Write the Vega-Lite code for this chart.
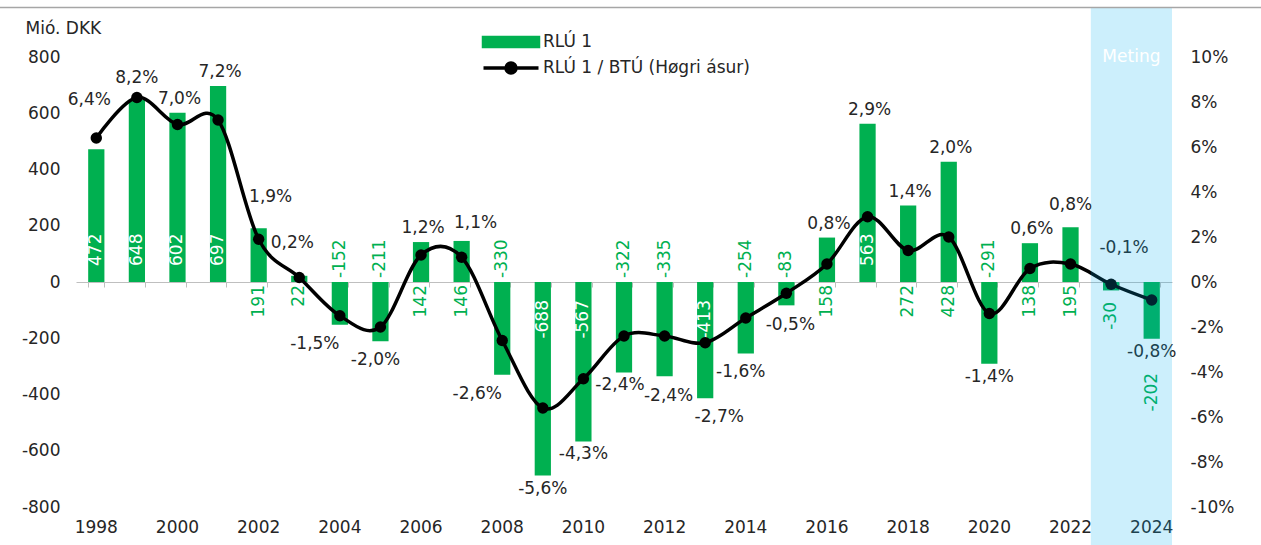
{
  "$schema": "https://vega.github.io/schema/vega-lite/v6.json",
  "width": 1096,
  "height": 450,
  "autosize": {"type": "none"},
  "padding": {"left": 76, "top": 57, "right": 89, "bottom": 38},
  "background": "white",
  "data": {
    "values": [
      {"year": 1998, "value": 472, "pct": 0.064},
      {"year": 1999, "value": 648, "pct": 0.082},
      {"year": 2000, "value": 602, "pct": 0.070},
      {"year": 2001, "value": 697, "pct": 0.072},
      {"year": 2002, "value": 191, "pct": 0.019},
      {"year": 2003, "value": 22, "pct": 0.002},
      {"year": 2004, "value": -152, "pct": -0.015},
      {"year": 2005, "value": -211, "pct": -0.020},
      {"year": 2006, "value": 142, "pct": 0.012},
      {"year": 2007, "value": 146, "pct": 0.011},
      {"year": 2008, "value": -330, "pct": -0.026},
      {"year": 2009, "value": -688, "pct": -0.056},
      {"year": 2010, "value": -567, "pct": -0.043},
      {"year": 2011, "value": -322, "pct": -0.024},
      {"year": 2012, "value": -335, "pct": -0.024},
      {"year": 2013, "value": -413, "pct": -0.027},
      {"year": 2014, "value": -254, "pct": -0.016},
      {"year": 2015, "value": -83, "pct": -0.005},
      {"year": 2016, "value": 158, "pct": 0.008},
      {"year": 2017, "value": 563, "pct": 0.029},
      {"year": 2018, "value": 272, "pct": 0.014},
      {"year": 2019, "value": 428, "pct": 0.020},
      {"year": 2020, "value": -291, "pct": -0.014},
      {"year": 2021, "value": 138, "pct": 0.006},
      {"year": 2022, "value": 195, "pct": 0.008},
      {"year": 2023, "value": -30, "pct": -0.001},
      {"year": 2024, "value": -202, "pct": -0.008}
    ]
  },
  "config": {
    "view": {"stroke": null},
    "font": "DejaVu Sans",
    "locale": {"number": {"decimal": ",", "thousands": ".", "grouping": [3], "currency": ["", " kr."], "minus": "-"}},
    "axis": {"labelFont": "DejaVu Sans", "labelFontSize": 17, "labelColor": "#262626", "titleFont": "DejaVu Sans", "titleFontSize": 17, "titleColor": "#262626", "titleFontWeight": "normal", "grid": false},
    "text": {"font": "DejaVu Sans", "fontSize": 17}
  },
  "resolve": {"scale": {"y": "independent"}, "axis": {"x": "independent", "y": "independent"}},
  "layer": [
    {
      "mark": {"type": "bar"},
      "encoding": {
        "x": {"field": "year", "type": "ordinal", "scale": {"paddingInner": 0.6, "paddingOuter": 0.3},
          "axis": {"orient": "bottom", "offset": -225, "domain": true, "domainColor": "#bfbfbf", "domainWidth": 1.2, "ticks": true, "tickColor": "#bfbfbf", "tickBand": "extent", "tickExtra": true, "tickSize": 5, "labels": false, "title": null}},
        "y": {"field": "value", "type": "quantitative", "scale": {"domain": [-800, 800], "nice": false},
          "axis": {"orient": "left", "values": [-800, -600, -400, -200, 0, 200, 400, 600, 800], "domain": false, "ticks": false, "labelPadding": 16, "title": "Mió. DKK", "titleAngle": 0, "titleAlign": "left", "titleBaseline": "middle", "titleX": -51, "titleY": -29}},
        "color": {"datum": "RLÚ 1", "type": "nominal",
          "scale": {"domain": ["RLÚ 1", "RLÚ 1 / BTÚ (Høgri ásur)"], "range": ["#00B050", "#000000"]},
          "legend": {"orient": "none", "legendX": 423, "legendY": -27, "title": null, "direction": "vertical", "symbolSize": 400, "labelFontSize": 17, "labelColor": "#262626", "labelFont": "DejaVu Sans", "labelOffset": 20, "labelLimit": 400, "rowPadding": 2,
            "encode": {"symbols": {"update": {
              "shape": {"signal": "datum.value === 'RLÚ 1' ? 'M-2.75,-0.44H2.75V0.44H-2.75Z' : 'M-2.75,0H2.75M0.5,0A0.5,0.5,0,1,1,-0.5,0A0.5,0.5,0,1,1,0.5,0Z'"},
              "fill": {"signal": "datum.value === 'RLÚ 1' ? '#00B050' : '#000000'"},
              "stroke": {"signal": "datum.value === 'RLÚ 1' ? 'transparent' : '#000000'"},
              "strokeWidth": {"value": 3.5},
              "fillOpacity": {"value": 1},
              "opacity": {"value": 1}
            }}}}}
      }
    },
    {
      "transform": [{"filter": "datum.value >= 450"}],
      "mark": {"type": "text", "angle": 270, "align": "left", "baseline": "middle", "dx": 16, "color": "#ffffff"},
      "encoding": {"x": {"field": "year", "type": "ordinal", "axis": null}, "y": {"datum": 0, "type": "quantitative", "scale": {"domain": [-800, 800], "nice": false}, "axis": null}, "text": {"field": "value", "type": "quantitative"}}
    },
    {
      "transform": [{"filter": "datum.value <= -400"}],
      "mark": {"type": "text", "angle": 270, "align": "right", "baseline": "middle", "dx": -18, "color": "#ffffff"},
      "encoding": {"x": {"field": "year", "type": "ordinal", "axis": null}, "y": {"datum": 0, "type": "quantitative", "scale": {"domain": [-800, 800], "nice": false}, "axis": null}, "text": {"field": "value", "type": "quantitative"}}
    },
    {
      "transform": [{"filter": "datum.value > 0 && datum.value < 450"}],
      "mark": {"type": "text", "angle": 270, "align": "right", "baseline": "middle", "dx": -3, "color": "#00B050"},
      "encoding": {"x": {"field": "year", "type": "ordinal", "axis": null}, "y": {"datum": 0, "type": "quantitative", "scale": {"domain": [-800, 800], "nice": false}, "axis": null}, "text": {"field": "value", "type": "quantitative"}}
    },
    {
      "transform": [{"filter": "datum.value < 0 && datum.value > -400 && datum.year < 2023"}],
      "mark": {"type": "text", "angle": 270, "align": "left", "baseline": "middle", "dx": 4, "color": "#00B050"},
      "encoding": {"x": {"field": "year", "type": "ordinal", "axis": null}, "y": {"datum": 0, "type": "quantitative", "scale": {"domain": [-800, 800], "nice": false}, "axis": null}, "text": {"field": "value", "type": "quantitative"}}
    },
    {
      "transform": [{"filter": "datum.year === 2023"}],
      "mark": {"type": "text", "angle": 270, "align": "right", "baseline": "middle", "dx": -20, "color": "#00B050"},
      "encoding": {"x": {"field": "year", "type": "ordinal", "axis": null}, "y": {"datum": 0, "type": "quantitative", "scale": {"domain": [-800, 800], "nice": false}, "axis": null}, "text": {"field": "value", "type": "quantitative"}}
    },
    {
      "transform": [{"filter": "datum.year === 2024"}],
      "mark": {"type": "text", "angle": 270, "align": "right", "baseline": "middle", "dx": -34, "color": "#00B050"},
      "encoding": {"x": {"field": "year", "type": "ordinal", "axis": null}, "y": {"field": "value", "type": "quantitative", "scale": {"domain": [-800, 800], "nice": false}, "axis": null}, "text": {"field": "value", "type": "quantitative"}}
    },
    {
      "mark": {"type": "line", "interpolate": "cardinal", "strokeWidth": 3.5, "point": {"filled": true, "size": 130}},
      "encoding": {
        "x": {"field": "year", "type": "ordinal",
          "axis": {"orient": "bottom", "values": [1998, 2000, 2002, 2004, 2006, 2008, 2010, 2012, 2014, 2016, 2018, 2020, 2022, 2024], "domain": false, "ticks": false, "tickSize": 0, "labelAngle": 0, "labelPadding": 12, "title": null}},
        "y": {"field": "pct", "type": "quantitative", "scale": {"domain": [-0.1, 0.1], "nice": false},
          "axis": {"orient": "right", "values": [-0.1, -0.08, -0.06, -0.04, -0.02, 0, 0.02, 0.04, 0.06, 0.08, 0.1], "format": ".0%", "domain": false, "ticks": false, "labelPadding": 18, "title": null}},
        "color": {"datum": "RLÚ 1 / BTÚ (Høgri ásur)", "type": "nominal",
          "scale": {"domain": ["RLÚ 1", "RLÚ 1 / BTÚ (Høgri ásur)"], "range": ["#00B050", "#000000"]}}
      }
    },
    {
      "transform": [{"filter": {"field": "year", "oneOf": [2000, 2001, 2006, 2016, 2017, 2018, 2019, 2021]}}],
      "mark": {"type": "text", "align": "center", "baseline": "middle", "dx": 2, "dy": -14, "color": "#262626"},
      "encoding": {"x": {"field": "year", "type": "ordinal", "axis": null}, "y": {"field": "value", "type": "quantitative", "scale": {"domain": [-800, 800], "nice": false}, "axis": null}, "text": {"field": "pct", "type": "quantitative", "format": ".1%"}}
    },
    {
      "transform": [{"filter": {"field": "year", "oneOf": [1999, 2022]}}],
      "mark": {"type": "text", "align": "center", "baseline": "middle", "dx": 0, "dy": -22, "color": "#262626"},
      "encoding": {"x": {"field": "year", "type": "ordinal", "axis": null}, "y": {"field": "value", "type": "quantitative", "scale": {"domain": [-800, 800], "nice": false}, "axis": null}, "text": {"field": "pct", "type": "quantitative", "format": ".1%"}}
    },
    {
      "transform": [{"filter": {"field": "year", "oneOf": [2007]}}],
      "mark": {"type": "text", "align": "center", "baseline": "middle", "dx": 14, "dy": -18, "color": "#262626"},
      "encoding": {"x": {"field": "year", "type": "ordinal", "axis": null}, "y": {"field": "value", "type": "quantitative", "scale": {"domain": [-800, 800], "nice": false}, "axis": null}, "text": {"field": "pct", "type": "quantitative", "format": ".1%"}}
    },
    {
      "transform": [{"filter": {"field": "year", "oneOf": [2002]}}],
      "mark": {"type": "text", "align": "center", "baseline": "middle", "dx": 12, "dy": -31, "color": "#262626"},
      "encoding": {"x": {"field": "year", "type": "ordinal", "axis": null}, "y": {"field": "value", "type": "quantitative", "scale": {"domain": [-800, 800], "nice": false}, "axis": null}, "text": {"field": "pct", "type": "quantitative", "format": ".1%"}}
    },
    {
      "transform": [{"filter": {"field": "year", "oneOf": [2003]}}],
      "mark": {"type": "text", "align": "center", "baseline": "middle", "dx": -7, "dy": -33, "color": "#262626"},
      "encoding": {"x": {"field": "year", "type": "ordinal", "axis": null}, "y": {"field": "value", "type": "quantitative", "scale": {"domain": [-800, 800], "nice": false}, "axis": null}, "text": {"field": "pct", "type": "quantitative", "format": ".1%"}}
    },
    {
      "transform": [{"filter": {"field": "year", "oneOf": [1998]}}],
      "mark": {"type": "text", "align": "center", "baseline": "middle", "dx": -7, "dy": -49, "color": "#262626"},
      "encoding": {"x": {"field": "year", "type": "ordinal", "axis": null}, "y": {"field": "value", "type": "quantitative", "scale": {"domain": [-800, 800], "nice": false}, "axis": null}, "text": {"field": "pct", "type": "quantitative", "format": ".1%"}}
    },
    {
      "transform": [{"filter": {"field": "year", "oneOf": [2004, 2008]}}],
      "mark": {"type": "text", "align": "center", "baseline": "middle", "dx": -25, "dy": 19, "color": "#262626"},
      "encoding": {"x": {"field": "year", "type": "ordinal", "axis": null}, "y": {"field": "value", "type": "quantitative", "scale": {"domain": [-800, 800], "nice": false}, "axis": null}, "text": {"field": "pct", "type": "quantitative", "format": ".1%"}}
    },
    {
      "transform": [{"filter": {"field": "year", "oneOf": [2005, 2014]}}],
      "mark": {"type": "text", "align": "center", "baseline": "middle", "dx": -5, "dy": 19, "color": "#262626"},
      "encoding": {"x": {"field": "year", "type": "ordinal", "axis": null}, "y": {"field": "value", "type": "quantitative", "scale": {"domain": [-800, 800], "nice": false}, "axis": null}, "text": {"field": "pct", "type": "quantitative", "format": ".1%"}}
    },
    {
      "transform": [{"filter": {"field": "year", "oneOf": [2012, 2015]}}],
      "mark": {"type": "text", "align": "center", "baseline": "middle", "dx": 4, "dy": 20, "color": "#262626"},
      "encoding": {"x": {"field": "year", "type": "ordinal", "axis": null}, "y": {"field": "value", "type": "quantitative", "scale": {"domain": [-800, 800], "nice": false}, "axis": null}, "text": {"field": "pct", "type": "quantitative", "format": ".1%"}}
    },
    {
      "transform": [{"filter": {"field": "year", "oneOf": [2013]}}],
      "mark": {"type": "text", "align": "center", "baseline": "middle", "dx": 14, "dy": 19, "color": "#262626"},
      "encoding": {"x": {"field": "year", "type": "ordinal", "axis": null}, "y": {"field": "value", "type": "quantitative", "scale": {"domain": [-800, 800], "nice": false}, "axis": null}, "text": {"field": "pct", "type": "quantitative", "format": ".1%"}}
    },
    {
      "transform": [{"filter": {"field": "year", "oneOf": [2009, 2010, 2020, 2024]}}],
      "mark": {"type": "text", "align": "center", "baseline": "middle", "dx": 0, "dy": 13, "color": "#262626"},
      "encoding": {"x": {"field": "year", "type": "ordinal", "axis": null}, "y": {"field": "value", "type": "quantitative", "scale": {"domain": [-800, 800], "nice": false}, "axis": null}, "text": {"field": "pct", "type": "quantitative", "format": ".1%"}}
    },
    {
      "transform": [{"filter": {"field": "year", "oneOf": [2011]}}],
      "mark": {"type": "text", "align": "center", "baseline": "middle", "dx": -4, "dy": 12, "color": "#262626"},
      "encoding": {"x": {"field": "year", "type": "ordinal", "axis": null}, "y": {"field": "value", "type": "quantitative", "scale": {"domain": [-800, 800], "nice": false}, "axis": null}, "text": {"field": "pct", "type": "quantitative", "format": ".1%"}}
    },
    {
      "transform": [{"filter": {"field": "year", "oneOf": [2023]}}],
      "mark": {"type": "text", "align": "center", "baseline": "middle", "dx": 13, "dy": -42, "color": "#262626"},
      "encoding": {"x": {"field": "year", "type": "ordinal", "axis": null}, "y": {"field": "value", "type": "quantitative", "scale": {"domain": [-800, 800], "nice": false}, "axis": null}, "text": {"field": "pct", "type": "quantitative", "format": ".1%"}}
    },
    {
      "transform": [{"filter": "datum.year === 2023"}],
      "mark": {"type": "rect", "color": "#00B0F0", "opacity": 0.2},
      "encoding": {
        "x": {"datum": 2023, "type": "ordinal", "bandPosition": -0.75, "axis": null},
        "x2": {"datum": 2024, "bandPosition": 1.75},
        "y": {"datum": 974, "type": "quantitative", "scale": {"domain": [-800, 800], "nice": false}, "axis": null},
        "y2": {"datum": -935}
      }
    },
    {
      "transform": [{"filter": "datum.year === 2023"}],
      "mark": {"type": "text", "align": "center", "baseline": "middle", "color": "#ffffff", "fontSize": 17},
      "encoding": {
        "x": {"datum": 2023, "type": "ordinal", "bandPosition": 1.75, "axis": null},
        "y": {"datum": 800, "type": "quantitative", "scale": {"domain": [-800, 800], "nice": false}, "axis": null},
        "text": {"value": "Meting"}
      }
    },
    {
      "transform": [{"filter": "datum.year === 2023"}],
      "mark": {"type": "rule", "color": "#a6a6a6", "strokeWidth": 1.5},
      "encoding": {
        "x": {"datum": 1998, "type": "ordinal", "bandPosition": -5.43, "axis": null},
        "x2": {"datum": 2024, "bandPosition": 7.23},
        "y": {"datum": 976, "type": "quantitative", "scale": {"domain": [-800, 800], "nice": false}, "axis": null}
      }
    }
  ]
}
